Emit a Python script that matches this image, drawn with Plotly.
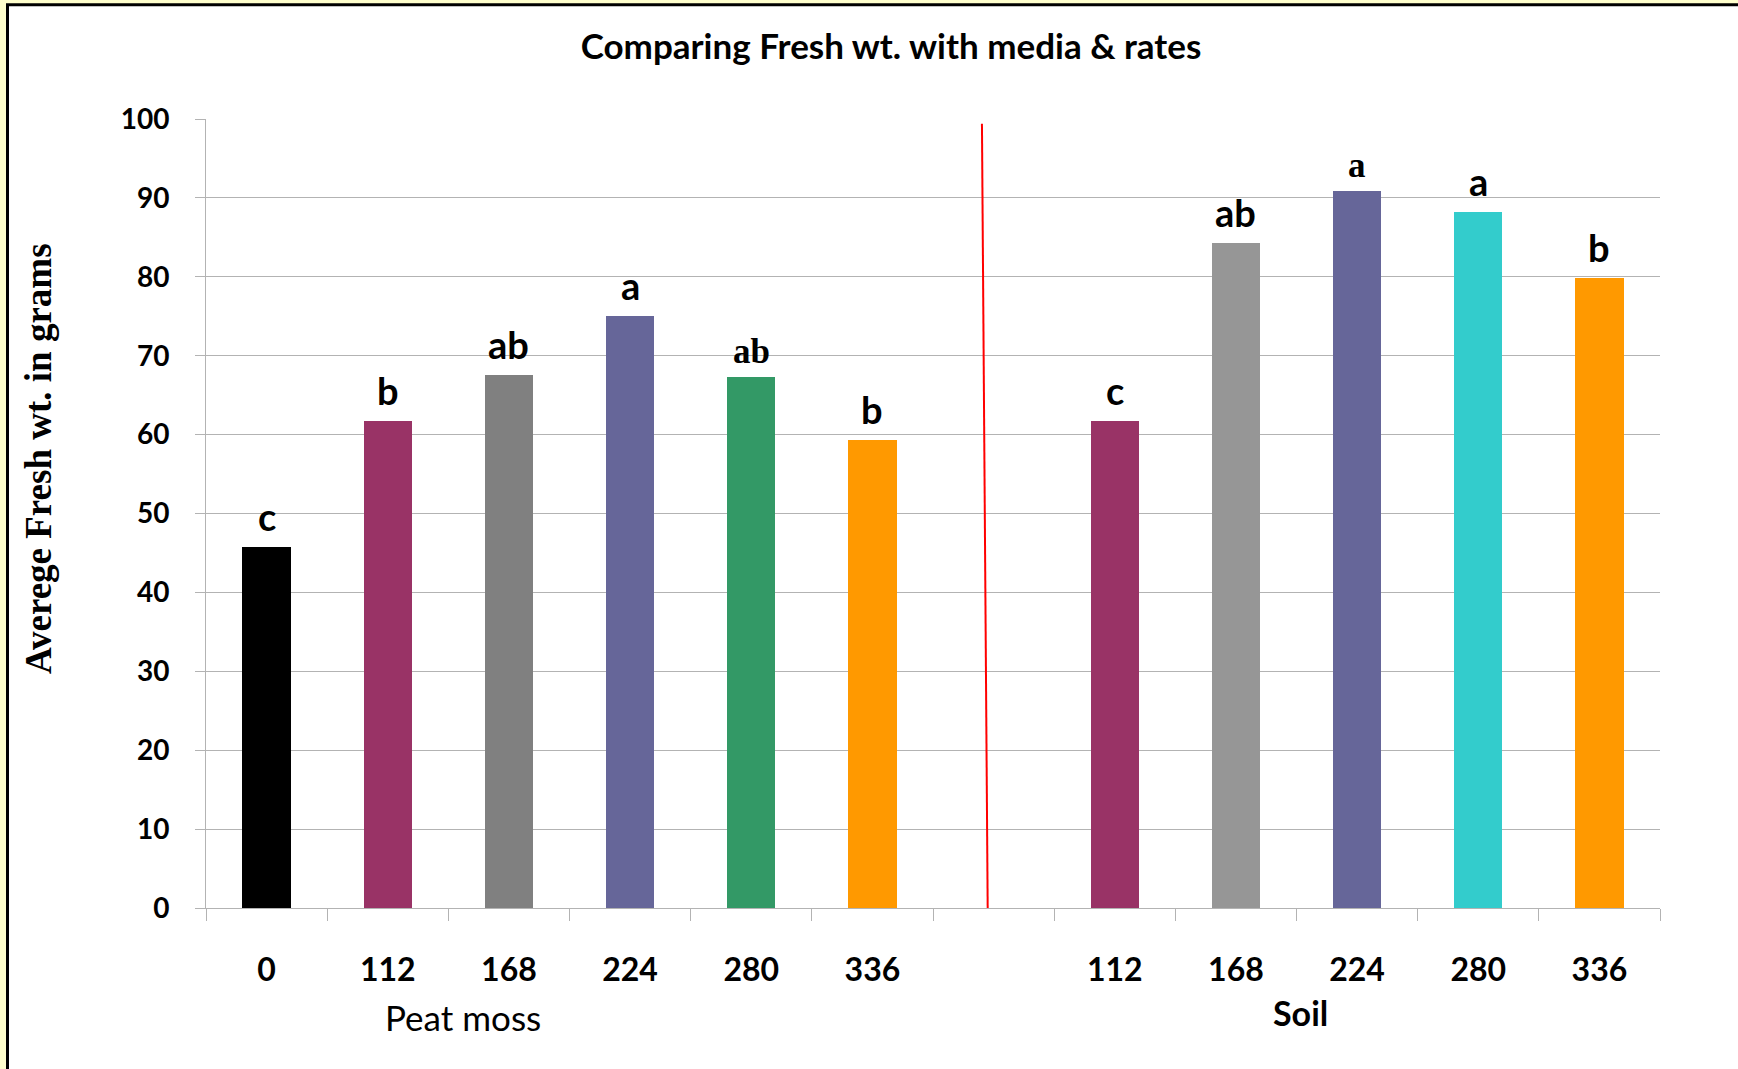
import plotly.graph_objects as go

# ---- data ----
rates_peat = ["0", "112", "168", "224", "280", "336"]
rates_soil = ["112", "168", "224", "280", "336"]
peat_values = [45.8, 61.7, 67.6, 75.0, 67.3, 59.3]
soil_values = [61.7, 84.3, 90.9, 88.2, 79.9]
peat_letters = ["c", "b", "ab", "a", "ab", "b"]
soil_letters = ["c", "ab", "a", "a", "b"]
peat_colors = ["#000000", "#993366", "#808080", "#666699", "#339966", "#FF9900"]
soil_colors = ["#993366", "#969696", "#666699", "#33CCCC", "#FF9900"]
peat_letter_fonts = ["Lato", "Lato", "Lato", "Lato", "Liberation Serif", "Lato"]
soil_letter_fonts = ["Lato", "Lato", "Liberation Serif", "Lato", "Lato"]
y_ticks = list(range(0, 101, 10))

# slot positions: peat 0..5, empty slot 6, soil 7..11
peat_x = list(range(len(rates_peat)))
gap_slot = len(rates_peat)
soil_x = [gap_slot + 1 + i for i in range(len(rates_soil))]
n_slots = gap_slot + 1 + len(rates_soil)

W, H = 1738, 1069
ML, MR, MT, MB = 206, 78, 119, 161
PW, PH = W - ML - MR, H - MT - MB

def px_x(p):
    return (p - ML) / PW

def px_y(p):
    return (H - MB - p) / PH

GRID = "#B3B3B3"

fig = go.Figure()
fig.add_trace(go.Bar(x=peat_x, y=peat_values, width=0.4,
                     marker=dict(color=peat_colors, line=dict(width=0)),
                     showlegend=False, hoverinfo="y"))
fig.add_trace(go.Bar(x=soil_x, y=soil_values, width=0.4,
                     marker=dict(color=soil_colors, line=dict(width=0)),
                     showlegend=False, hoverinfo="y"))

annotations = []
for xs, vals, letters, fonts in [(peat_x, peat_values, peat_letters, peat_letter_fonts),
                                 (soil_x, soil_values, soil_letters, soil_letter_fonts)]:
    for xv, yv, t, f in zip(xs, vals, letters, fonts):
        serif = f != "Lato"
        annotations.append(dict(
            x=xv, y=yv, xref="x", yref="y", text=f"<b>{t}</b>", showarrow=False,
            yanchor="bottom", yshift=4 if serif else 6,
            font=dict(family=f, size=35 if serif else 38, color="black")))

# group labels
annotations.append(dict(x=px_x(463), y=px_y(1017), xref="paper", yref="paper",
                        text="Peat moss", showarrow=False, xanchor="center", yanchor="middle",
                        font=dict(family="Lato", size=35, color="black")))
annotations.append(dict(x=px_x(1300), y=px_y(1013), xref="paper", yref="paper",
                        text="<b>Soil</b>", showarrow=False, xanchor="center", yanchor="middle",
                        font=dict(family="Lato", size=34, color="black")))
# y-axis title
annotations.append(dict(x=px_x(39), y=px_y(459), xref="paper", yref="paper",
                        text="<b>Averege Fresh wt. in grams</b>", showarrow=False,
                        textangle=-90, xanchor="center", yanchor="middle",
                        font=dict(family="Liberation Serif", size=37, color="black")))

shapes = [
    # white chart area with black border on left/top, yellow outside
    dict(type="rect", xref="paper", yref="paper",
         x0=px_x(7.5), x1=px_x(W + 20), y0=px_y(H + 20), y1=px_y(4.7),
         fillcolor="white", line=dict(color="black", width=3), layer="below"),
    # red divider line
    dict(type="line", xref="x", yref="y",
         x0=gap_slot - 0.096, y0=99.4, x1=gap_slot - 0.048, y1=-1.5,
         line=dict(color="#FF0000", width=2)),
]

fig.update_layout(
    width=W, height=H,
    margin=dict(l=ML, r=MR, t=MT, b=MB, pad=0),
    paper_bgcolor="#FFFFCC",
    plot_bgcolor="rgba(0,0,0,0)",
    title=dict(text="<b>Comparing Fresh wt. with media &amp; rates</b>",
               x=891 / W, xanchor="center", xref="container",
               y=1 - 46.5 / H, yanchor="middle", yref="container",
               font=dict(family="Lato", size=35, color="black")),
    bargap=0,
    annotations=annotations,
    shapes=shapes,
    xaxis=dict(
        range=[-0.5, n_slots - 0.5],
        tickmode="array",
        tickvals=peat_x + soil_x,
        ticktext=rates_peat + rates_soil,
        ticks="",
        ticklabelstandoff=34,
        tickfont=dict(family="Lato", size=32, color="black", weight="bold"),
        showgrid=False, zeroline=False,
        showline=True, linecolor=GRID, linewidth=1,
        minor=dict(tickmode="array", tickvals=[i - 0.5 for i in range(n_slots + 1)],
                   ticks="outside", ticklen=12, tickcolor=GRID, tickwidth=1, showgrid=False),
        fixedrange=True,
    ),
    yaxis=dict(
        range=[0, 100],
        tickmode="array", tickvals=y_ticks, ticktext=[str(v) for v in y_ticks],
        ticks="outside", ticklen=10, tickcolor=GRID, tickwidth=1,
        ticklabelstandoff=20,
        tickfont=dict(family="Lato", size=28, color="black", weight="bold"),
        showgrid=True, gridcolor=GRID, gridwidth=1,
        zeroline=False,
        showline=True, linecolor=GRID, linewidth=1,
        fixedrange=True,
    ),
)

fig.write_html("out.html")
